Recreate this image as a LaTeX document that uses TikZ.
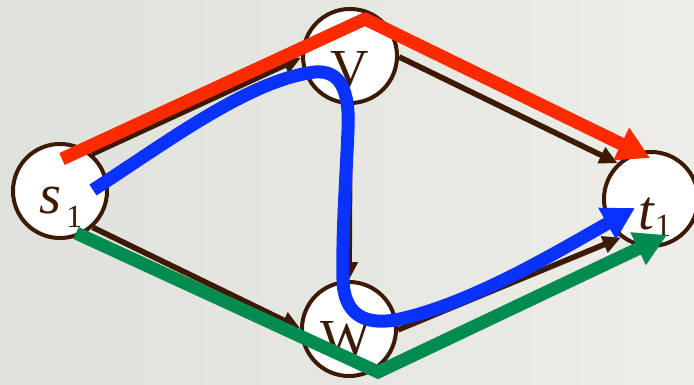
\documentclass[tikz,border=0pt]{standalone}
\usepackage{fontspec}
\setmainfont{Liberation Serif}
\usetikzlibrary{arrows.meta}
\definecolor{edgebrown}{HTML}{3C1A06}
\definecolor{pathred}{HTML}{FF2A00}
\definecolor{pathblue}{HTML}{0A32FF}
\definecolor{pathgreen}{HTML}{008C50}
\definecolor{bgleft}{HTML}{DFE1DB}
\definecolor{bgright}{HTML}{EEEDE7}
\tikzset{
    vertex/.style={circle, draw=edgebrown, fill=white, line width=0.1cm,
                   minimum size=2.35cm, inner sep=0pt},
    vtext/.style={font=\fontsize{38}{42}\selectfont, text=edgebrown,
                  inner sep=0pt},
    link/.style={-{Triangle[length=0.45cm, width=0.42cm]}, draw=edgebrown,
                 line width=0.14cm},
    route/.style={-{Triangle[length=0.8cm, width=0.85cm]},
                  line width=0.325cm, line join=round},
}
\newcommand{\sublabel}[3]{{\fontsize{40}{44}\selectfont\itshape #1}\kern#3\raisebox{#2}{\fontsize{23}{23}\selectfont 1}}

\begin{document}
\begin{tikzpicture}[x=0.025cm, y=-0.025cm]
    \useasboundingbox (0,0) rectangle (694,385);
    \shade[left color=bgleft, right color=bgright] (0,0) rectangle (694,385);
    \clip (0,0) rectangle (694,385);

    \node[vertex, label={[vtext, xshift=0.02cm, yshift=-0.4cm]center:\sublabel{s}{-0.35cm}{0.12cm}}] (s1) at (60,191) {};
    \node[vertex, label={[vtext, yshift=-0.33cm]center:V}] (v) at (350,56) {};
    \node[vertex, label={[vtext, xshift=-0.08cm, yshift=-0.26cm]center:W}] (w) at (349,329) {};
    \node[vertex, label={[vtext, xshift=0.1cm, yshift=-0.46cm]center:\sublabel{t}{-0.18cm}{0.02cm}}] (t1) at (651,199) {};

    \draw[link] (s1.49) -- (v.182);
    \draw[link] (s1.-48) -- (w.179);
    \draw[link] (v.-1) -- (t1.133);
    \draw[link] (w.-1) -- (t1.232);
    \draw[link] (v.south) -- (w.north);

    \draw[route, pathred] ([shift={(2,-32)}]s1.center) -- ([shift={(15,-37)}]v.center)
        -- ([shift={(-1,-41)}]t1.center);
    \draw[route, pathblue] ([shift={(33,-1)}]s1.center)
        .. controls +(77,-50) and +(-65,8) .. ([shift={(-35,16)}]v.center)
        .. controls +(25,-2) and +(2,-40) .. ([shift={(-2,74)}]v.center)
        .. controls +(-2,50) and +(-1,-50) .. ([shift={(-6,-49)}]w.center)
        .. controls +(1,35) and +(-30,5) .. ([shift={(46,-9)}]w.center)
        .. controls +(75,-15) and +(-75,42) .. ([shift={(-16,9)}]t1.center);
    \draw[route, pathgreen, line join=miter] ([shift={(16,42)}]s1.center)
        -- ([shift={(29,43)}]w.center) -- ([shift={(16,36)}]t1.center);
\end{tikzpicture}
\end{document}
